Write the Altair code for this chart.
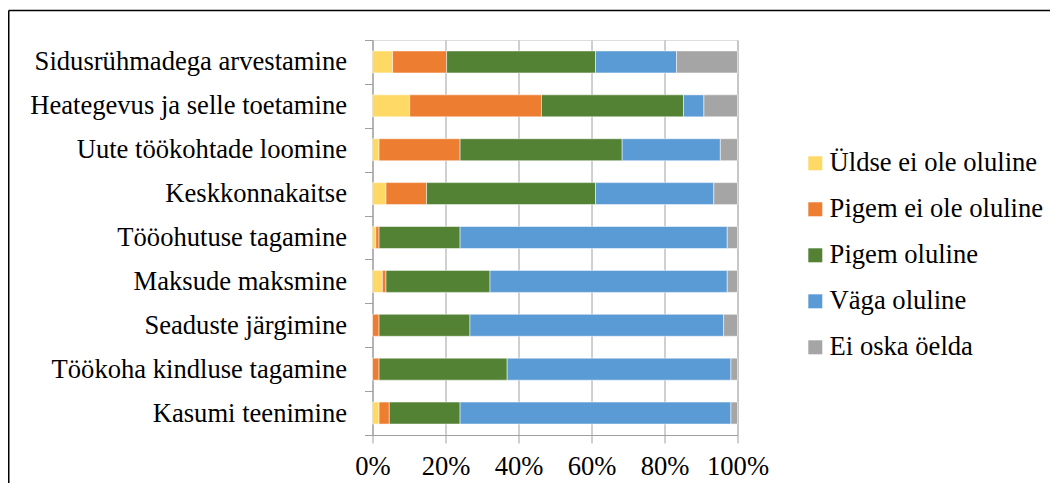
import altair as alt
import pandas as pd

categories = [
    "Sidusrühmadega arvestamine",
    "Heategevus ja selle toetamine",
    "Uute töökohtade loomine",
    "Keskkonnakaitse",
    "Tööohutuse tagamine",
    "Maksude maksmine",
    "Seaduste järgimine",
    "Töökoha kindluse tagamine",
    "Kasumi teenimine",
]
series = ["Üldse ei ole oluline", "Pigem ei ole oluline", "Pigem oluline", "Väga oluline", "Ei oska öelda"]
colors = ["#FFD966", "#ED7D31", "#548235", "#5B9BD5", "#A5A5A5"]

yldse = [5.5, 10.2, 1.8, 3.7, 0.9, 2.7, 0.0, 0.0, 1.8]
pigem_ei = [14.8, 36.1, 22.2, 11.1, 0.9, 1.0, 1.8, 1.8, 2.8]
pigem = [40.8, 38.9, 44.4, 46.3, 22.2, 28.5, 24.9, 35.1, 19.4]
vaga = [22.2, 5.6, 26.9, 32.4, 73.2, 65.0, 69.5, 61.3, 74.2]
ei_oska = [16.7, 9.2, 4.7, 6.5, 2.8, 2.8, 3.8, 1.8, 1.8]

values = [yldse, pigem_ei, pigem, vaga, ei_oska]
rows = []
for si, (s, vals) in enumerate(zip(series, values)):
    for c, v in zip(categories, vals):
        rows.append({"cat": c, "series": s, "value": v, "idx": si})
df = pd.DataFrame(rows)

FONT = "Liberation Serif"
FS = 26.6

bars = alt.Chart(df).mark_bar(size=22, stroke="white", strokeWidth=0.5).encode(
    y=alt.Y("cat:N", sort=categories,
            scale=alt.Scale(paddingInner=0, paddingOuter=0),
            axis=alt.Axis(title=None, tickBand="extent", tickSize=8, tickColor="#A0A0A0",
                          domainColor="#A0A0A0", labelPadding=18, labelFontSize=FS,
                          labelFont=FONT, labelColor="black", labelLimit=400, grid=False)),
    x=alt.X("value:Q", stack="normalize",
            scale=alt.Scale(domain=[0, 1], nice=False),
            axis=alt.Axis(title=None, format=".0%", values=[0, 0.2, 0.4, 0.6, 0.8, 1.0],
                          grid=True, gridColor="#A0A0A0", gridWidth=1,
                          tickSize=8, tickColor="#A0A0A0", domainColor="#A0A0A0",
                          labelOverlap=False, labelBound=False, labelFlush=False,
                          labelPadding=10, labelFontSize=FS, labelFont=FONT, labelColor="black")),
    color=alt.Color("series:N", sort=series,
                    scale=alt.Scale(domain=series, range=colors),
                    legend=alt.Legend(title=None, orient="none", legendX=429.5, legendY=110,
                                      symbolType="square", symbolSize=196, symbolStrokeWidth=0,
                                      labelFontSize=FS, labelFont=FONT, labelColor="black",
                                      rowPadding=19, labelOffset=1, padding=0, labelLimit=400)),
    order=alt.Order("idx:Q", sort="ascending"),
)

one = pd.DataFrame({"a": [0]})
top_line = alt.Chart(one).mark_rule(color="black", strokeWidth=1.5).encode(
    x=alt.value(-363.75), x2=alt.value(700), y=alt.value(-29.5))
left_line = alt.Chart(one).mark_rule(color="black", strokeWidth=1.5).encode(
    x=alt.value(-363.75), y=alt.value(-29.5), y2=alt.value(500))

chart = alt.layer(bars, top_line, left_line).properties(
    width=365, height=395,
    autosize=alt.AutoSizeParams(type="none"),
    padding={"left": 364.5, "top": 32, "right": 312, "bottom": 48},
).configure_view(stroke=None).configure(font=FONT)

chart.save("out.html", embed_options={"renderer": "svg", "actions": False})
